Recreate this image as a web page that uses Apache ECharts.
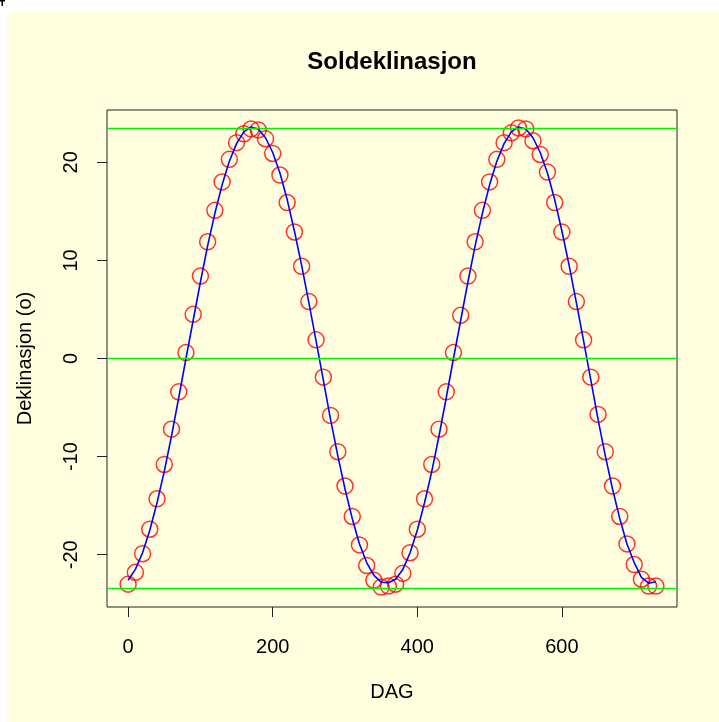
<!DOCTYPE html>
<html>
<head>
<meta charset="utf-8">
<script src="https://cdn.jsdelivr.net/npm/echarts@6/dist/echarts.min.js"></script>
<style>
  html, body { margin: 0; padding: 0; background: #ffffff; }
  #chart { width: 719px; height: 722px; }
</style>
</head>
<body>
<div id="chart"></div>
<script>
// Day numbers of the sampled points (two years, every 10 days)
const days = [
  0, 10, 20, 30, 40, 50, 60, 70, 80, 90, 100, 110, 120, 130, 140, 150, 160, 170, 180, 190,
  200, 210, 220, 230, 240, 250, 260, 270, 280, 290, 300, 310, 320, 330, 340, 350, 360,
  370, 380, 390, 400, 410, 420, 430, 440, 450, 460, 470, 480, 490, 500, 510, 520, 530, 540,
  550, 560, 570, 580, 590, 600, 610, 620, 630, 640, 650, 660, 670, 680, 690, 700, 710, 720, 730
];

// Declination (degrees) shown as open circles
const declPoints = [
  -23.0, -21.8, -19.9, -17.4, -14.3, -10.8, -7.2, -3.4, 0.6, 4.5, 8.4, 11.9, 15.1, 18.0, 20.3, 22.0, 22.9, 23.4, 23.3, 22.4,
  20.9, 18.7, 15.9, 12.9, 9.4, 5.8, 1.9, -1.9, -5.8, -9.5, -13.0, -16.1, -19.0, -21.1, -22.6, -23.3, -23.2,
  -23.0, -21.9, -19.8, -17.4, -14.3, -10.8, -7.2, -3.4, 0.6, 4.4, 8.4, 11.9, 15.1, 18.0, 20.3, 22.0, 23.0, 23.5,
  23.4, 22.2, 20.8, 19.0, 15.9, 12.9, 9.4, 5.8, 1.9, -1.9, -5.7, -9.5, -13.0, -16.1, -18.9, -21.0, -22.5, -23.2, -23.2
];

// Declination (degrees) drawn as the blue curve
const declCurve = [
  -22.6, -21.5, -19.8, -17.5, -14.7, -11.5, -7.9, -4.0, 0.0, 3.9, 7.8, 11.5, 14.8, 17.7, 20.1, 21.9, 23.1, 23.6, 23.4, 22.5,
  21.0, 18.9, 16.2, 13.0, 9.5, 5.7, 1.8, -2.2, -6.2, -9.9, -13.3, -16.3, -18.9, -20.8, -22.1, -22.8, -22.85,
  -22.5, -21.5, -19.8, -17.5, -14.7, -11.5, -7.9, -4.0, 0.0, 3.9, 7.8, 11.5, 14.8, 17.7, 20.1, 21.9, 23.1, 23.6,
  23.4, 22.5, 21.0, 18.9, 16.2, 13.0, 9.5, 5.7, 1.8, -2.2, -6.2, -9.9, -13.3, -16.3, -18.9, -20.8, -22.3, -22.9, -22.75
];

// Tropics and equator
const refLevels = [23.45, 0, -23.45];

const xTicks = [0, 200, 400, 600];
const yTicks = [-20, -10, 0, 10, 20];

const titleText = 'Soldeklinasjon';
const xName = 'DAG';
const yName = 'Deklinasjon (o)';

// Axis ranges padded by 4 % of the data range on each side
const xMin = -29.2, xMax = 759.2;
const yMin = -25.33, yMax = 25.33;

const FONT = '"Liberation Sans", Arial, Helvetica, sans-serif';
const PANEL = '#ffffe0';

const chart = echarts.init(document.getElementById('chart'), null, { renderer: 'canvas' });

const pointData = days.map((d, i) => [d, declPoints[i]]);
const curveData = days.map((d, i) => [d, declCurve[i]]);

chart.setOption({
  backgroundColor: '#ffffff',
  animation: false,
  graphic: [
    { type: 'rect', z: -10, shape: { x: 7, y: 12, width: 712, height: 710 }, style: { fill: PANEL } },
    { type: 'rect', shape: { x: 0, y: 0, width: 5, height: 1.5 }, style: { fill: '#000' } },
    { type: 'rect', shape: { x: 1.5, y: 0, width: 1.5, height: 6 }, style: { fill: '#000' } },
    {
      type: 'text', x: 392, y: 62,
      style: { text: titleText, font: 'bold 24px ' + FONT, fill: '#000', textAlign: 'center', textVerticalAlign: 'middle' }
    }
  ],
  grid: {
    left: 107, top: 110, width: 570, height: 497,
    show: true, borderColor: '#222', borderWidth: 1, backgroundColor: PANEL,
    containLabel: false
  },
  xAxis: {
    type: 'value', min: xMin, max: xMax, position: 'bottom',
    name: xName, nameLocation: 'middle', nameGap: 75,
    nameTextStyle: { fontFamily: FONT, fontSize: 20, color: '#000' },
    axisLine: { show: false, onZero: false },
    axisTick: { show: true, inside: false, length: 10, customValues: xTicks, lineStyle: { color: '#222', width: 1 } },
    axisLabel: { customValues: xTicks, fontFamily: FONT, fontSize: 20, color: '#000', margin: 30 },
    splitLine: { show: false }
  },
  yAxis: {
    type: 'value', min: yMin, max: yMax, position: 'left',
    name: yName, nameLocation: 'middle', nameGap: 72,
    nameTextStyle: { fontFamily: FONT, fontSize: 20, color: '#000' },
    axisLine: { show: false, onZero: false },
    axisTick: { show: true, inside: false, length: 10, customValues: yTicks, lineStyle: { color: '#222', width: 1 } },
    axisLabel: { customValues: yTicks, rotate: 90, fontFamily: FONT, fontSize: 20, color: '#000', margin: 26 },
    splitLine: { show: false }
  },
  series: [
    {
      type: 'scatter',
      data: pointData,
      symbol: 'circle',
      symbolSize: 16,
      itemStyle: { color: 'rgba(0,0,0,0)', borderColor: '#ff0000', borderWidth: 1.5 },
      z: 2
    },
    {
      type: 'line',
      data: curveData,
      showSymbol: false,
      symbol: 'none',
      lineStyle: { color: '#0000ff', width: 1.6 },
      z: 3
    },
    {
      type: 'line',
      data: [],
      z: 4,
      markLine: {
        silent: true,
        symbol: 'none',
        label: { show: false },
        lineStyle: { color: '#00f000', width: 1.3, type: 'solid' },
        data: refLevels.map(v => ({ yAxis: v }))
      }
    }
  ]
});
</script>
</body>
</html>
